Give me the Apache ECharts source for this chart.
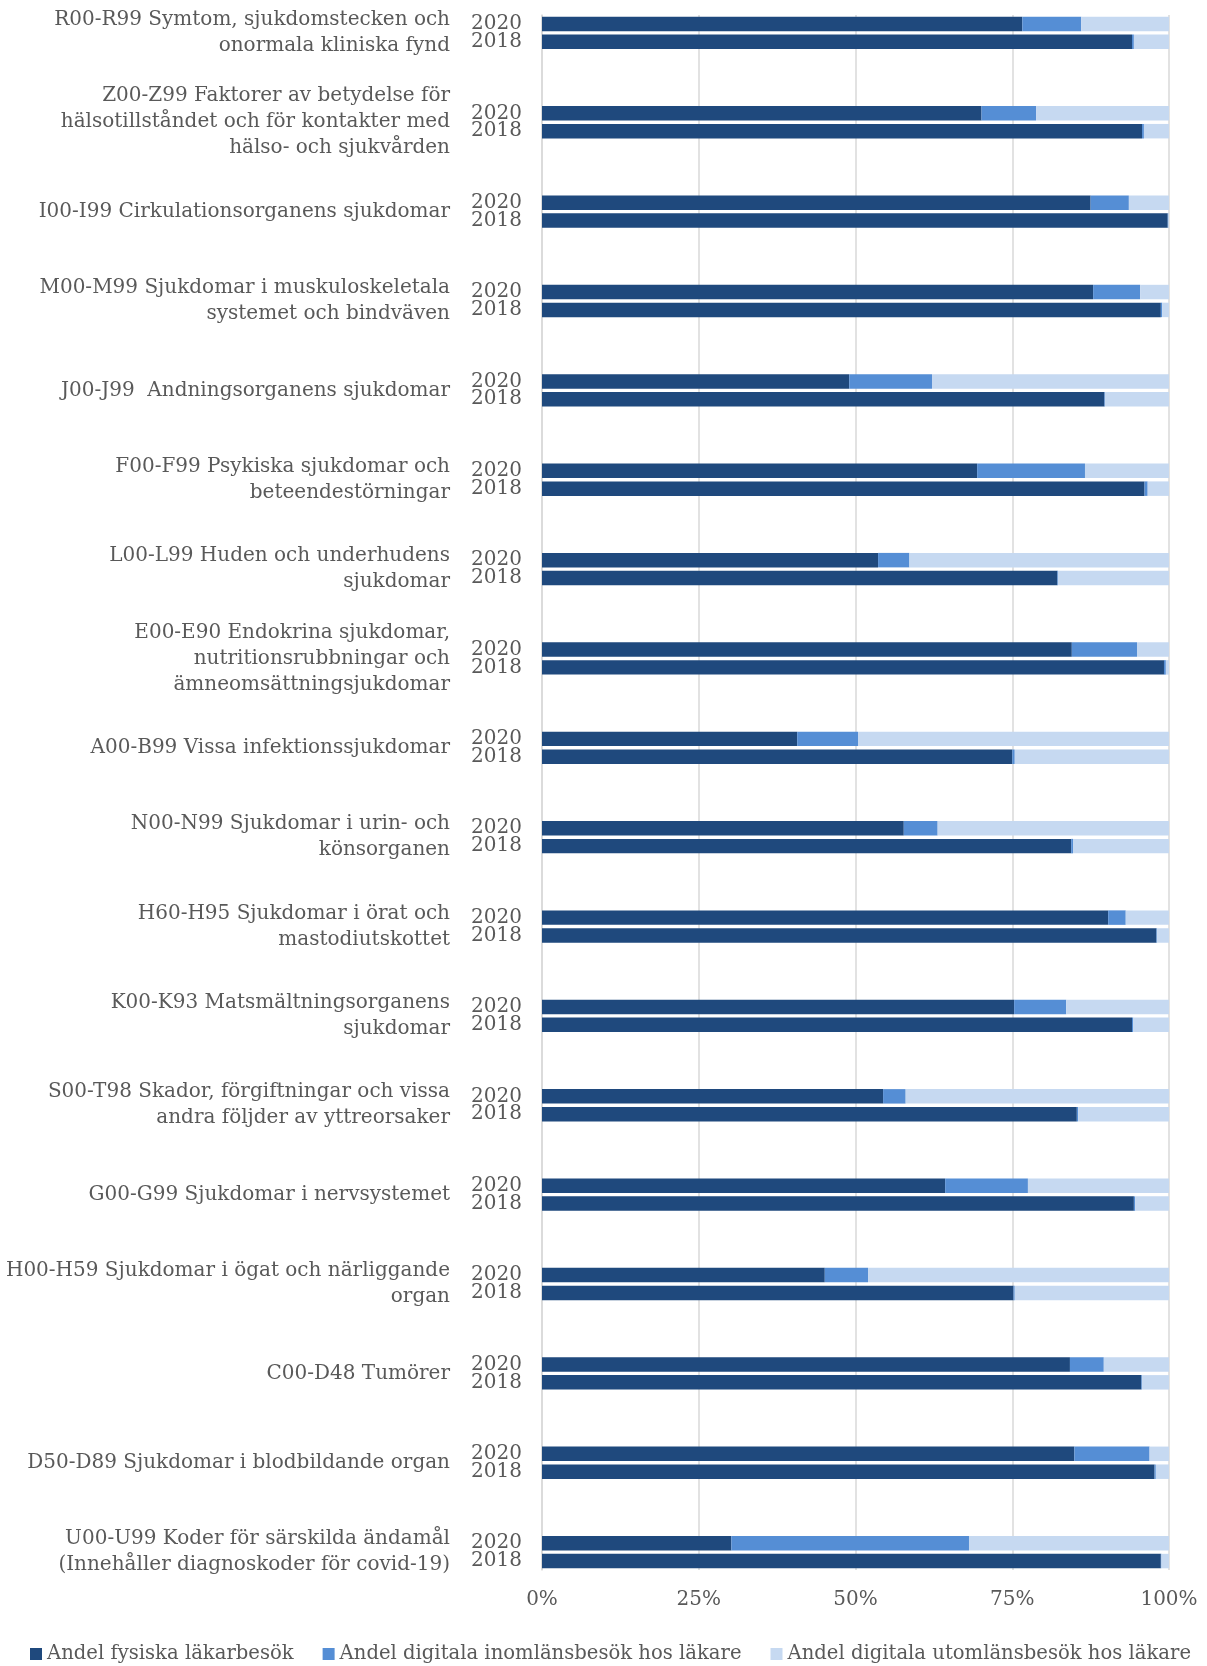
<!DOCTYPE html>
<html>
<head>
<meta charset="utf-8">
<script src="https://cdn.jsdelivr.net/npm/echarts@6/dist/echarts.min.js"></script>
<style>
html,body{margin:0;padding:0;background:#fff;}
#chart{width:1207px;height:1666px;}
</style>
</head>
<body>
<div id="chart"></div>
<script>
// Diagnosis groups (top to bottom)
const categories = [
  "R00-R99 Symtom, sjukdomstecken och\nonormala kliniska fynd",
  "Z00-Z99 Faktorer av betydelse för\nhälsotillståndet och för kontakter med\nhälso- och sjukvården",
  "I00-I99 Cirkulationsorganens sjukdomar",
  "M00-M99 Sjukdomar i muskuloskeletala\nsystemet och bindväven",
  "J00-J99  Andningsorganens sjukdomar",
  "F00-F99 Psykiska sjukdomar och\nbeteendestörningar",
  "L00-L99 Huden och underhudens\nsjukdomar",
  "E00-E90 Endokrina sjukdomar,\nnutritionsrubbningar och\nämneomsättningsjukdomar",
  "A00-B99 Vissa infektionssjukdomar",
  "N00-N99 Sjukdomar i urin- och\nkönsorganen",
  "H60-H95 Sjukdomar i örat och\nmastodiutskottet",
  "K00-K93 Matsmältningsorganens\nsjukdomar",
  "S00-T98 Skador, förgiftningar och vissa\nandra följder av yttreorsaker",
  "G00-G99 Sjukdomar i nervsystemet",
  "H00-H59 Sjukdomar i ögat och närliggande\norgan",
  "C00-D48 Tumörer",
  "D50-D89 Sjukdomar i blodbildande organ",
  "U00-U99 Koder för särskilda ändamål\n(Innehåller diagnoskoder för covid-19)"
];
const years = ["2020", "2018"];
const seriesNames = [
  "Andel fysiska läkarbesök",
  "Andel digitala inomlänsbesök hos läkare",
  "Andel digitala utomlänsbesök hos läkare"
];
// 2020 values (%)
const fysiska2020 = [76.6, 70.1, 87.5, 87.9, 49.0, 69.4, 53.6, 84.5, 40.7, 57.7, 90.3, 75.3, 54.4, 64.3, 45.1, 84.2, 84.9, 30.2];
const inom2020    = [ 9.4,  8.7,  6.1,  7.5, 13.2, 17.2,  5.0, 10.4,  9.7,  5.4,  2.8,  8.3,  3.6, 13.2,  6.9,  5.4, 12.0, 37.9];
const utom2020    = [14.0, 21.2,  6.4,  4.6, 37.8, 13.4, 41.4,  5.1, 49.6, 36.9,  6.9, 16.4, 42.0, 22.5, 48.0, 10.4,  3.1, 31.9];
// 2018 values (%)
const fysiska2018 = [94.1, 95.7, 99.8, 98.7, 89.7, 96.1, 82.2, 99.2, 75.0, 84.4, 98.0, 94.1, 85.3, 94.4, 75.2, 95.6, 97.7, 98.7];
const inom2018    = [ 0.3,  0.3,  0.1,  0.2,  0.1,  0.5,  0.1,  0.3,  0.4,  0.3,  0.1,  0.2,  0.2,  0.2,  0.2,  0.1,  0.2,  0.1];
const utom2018    = [ 5.6,  4.0,  0.1,  1.1, 10.2,  3.4, 17.7,  0.5, 24.6, 15.3,  1.9,  5.7, 14.5,  5.4, 24.6,  4.3,  2.1,  1.2];
const xTicks = ["0%", "25%", "50%", "75%", "100%"];

// Build slots: each group = 2020, 2018, then 3 blank slots (none after last group)
const SLOTS_PER_GROUP = 5;
const yearSlots = [];
const s2020 = [fysiska2020, inom2020, utom2020];
const s2018 = [fysiska2018, inom2018, utom2018];
const seriesData = [[], [], []];
categories.forEach((c, i) => {
  const n = (i === categories.length - 1) ? 2 : SLOTS_PER_GROUP;
  for (let k = 0; k < n; k++) {
    yearSlots.push(k < 2 ? years[k] : "");
    for (let s = 0; s < 3; s++) {
      seriesData[s].push(k === 0 ? s2020[s][i] : (k === 1 ? s2018[s][i] : "-"));
    }
  }
});
// Group labels sit on slot boundaries (between the 2020 and 2018 bars)
const groupBoundaries = new Array(yearSlots.length + 1).fill("");
categories.forEach((c, i) => { groupBoundaries[i * SLOTS_PER_GROUP + 1] = c; });

const colors = ["#1F497D", "#558ED5", "#C6D9F1"];
const FONT = "DejaVu Serif";
const TXT = "#595959";

const chart = echarts.init(document.getElementById("chart"), null, {renderer: "canvas"});
chart.setOption({
  animation: false,
  color: colors,
  textStyle: {fontFamily: FONT},
  grid: {left: 542, right: 38, top: 15, bottom: 96, containLabel: false, outerBoundsMode: "none"},
  legend: {
    data: seriesNames,
    left: 25, top: 1639,
    icon: "rect", itemWidth: 12, itemHeight: 12, itemGap: 29,
    textStyle: {fontFamily: FONT, fontSize: 19.6, color: TXT}
  },
  xAxis: {
    type: "value", min: 0, max: 100, interval: 25,
    axisLine: {show: false}, axisTick: {show: false},
    splitLine: {lineStyle: {color: "#D9D9D9", width: 1.5}},
    axisLabel: {
      fontFamily: FONT, fontSize: 20, color: TXT, margin: 20,
      formatter: v => xTicks[Math.round(v / 25)]
    }
  },
  yAxis: [{
    type: "category", data: yearSlots, inverse: true,
    axisLine: {show: true, lineStyle: {color: "#D9D9D9", width: 1.5}},
    axisTick: {show: false},
    axisLabel: {interval: 0, fontFamily: FONT, fontSize: 20, color: TXT, margin: 20}
  }, {
    type: "category", data: groupBoundaries, inverse: true, position: "left",
    boundaryGap: false,
    axisLine: {show: false}, axisTick: {show: false}, splitLine: {show: false},
    axisLabel: {interval: 0, fontFamily: FONT, fontSize: 20, color: TXT, margin: 92,
      lineHeight: 26, align: "right"}
  }],
  series: seriesNames.map((name, s) => ({
    name, type: "bar", stack: "total", yAxisIndex: 0,
    barCategoryGap: "19%",
    data: seriesData[s],
    itemStyle: {color: colors[s]}
  }))
});
</script>
</body>
</html>
